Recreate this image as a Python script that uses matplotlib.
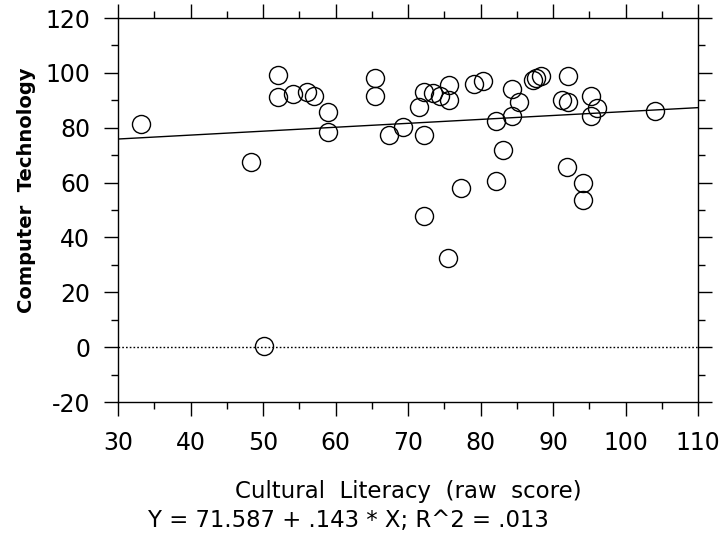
import matplotlib
import matplotlib.pyplot as plt
import numpy as np
from matplotlib.ticker import MultipleLocator

matplotlib.use("Agg")

# cultural literacy raw score vs computer technology score
literacy = [
    33.2, 48.3, 50.1, 52.0, 52.0, 54.1, 56.0, 57.1, 59.0, 59.0,
    65.5, 65.5, 67.4, 69.3, 71.5, 72.2, 72.2, 72.2, 73.4, 74.4,
    75.6, 75.6, 75.5, 77.3, 79.1, 80.3, 82.1, 82.1, 83.1, 84.3,
    84.3, 85.3, 87.2, 87.6, 88.4, 92.0, 91.2, 92.0, 91.9, 94.1,
    94.1, 95.3, 96.0, 95.3, 104.0,
]
technology = [
    81.4, 67.6, 0.5, 99.1, 91.2, 92.4, 93.2, 91.4, 85.6, 78.6,
    98.2, 91.4, 77.4, 80.4, 87.4, 93.1, 77.4, 47.9, 92.6, 91.4,
    95.4, 90.2, 32.5, 57.9, 96.0, 96.9, 82.4, 60.6, 71.7, 94.1,
    84.3, 89.2, 97.4, 98.2, 99.0, 99.0, 90.2, 89.4, 65.6, 59.7,
    53.8, 91.4, 87.2, 84.1, 86.2,
]

# fit reported on the original chart
intercept, slope = 71.587, 0.143
equation = "Y = 71.587 + .143 * X; R^2 = .013"

x_ticks = [30, 40, 50, 60, 70, 80, 90, 100, 110]
y_ticks = [-20, 0, 20, 40, 60, 80, 100, 120]

plt.rcParams["font.family"] = ["DejaVu Sans"]
plt.rcParams["axes.unicode_minus"] = False

fig = plt.figure(figsize=(7.25, 5.33), dpi=100)
ax = fig.add_axes([118 / 725, 1 - 402 / 533, 580 / 725, 384 / 533])

ax.plot(literacy, technology, "o", mfc="none", mec="black", ms=13, mew=1.0)

xs = np.array([x_ticks[0], x_ticks[-1]])
ax.plot(xs, intercept + slope * xs, color="black", lw=1.0)
ax.axhline(0, color="black", lw=1.0, ls=(0, (1.2, 1.5)))

ax.set_xlim(x_ticks[0], x_ticks[-1])
ax.set_ylim(y_ticks[0], y_ticks[-1])
ax.set_xticks(x_ticks)
ax.set_yticks(y_ticks)
ax.xaxis.set_minor_locator(MultipleLocator(5))
ax.yaxis.set_minor_locator(MultipleLocator(10))

ax.tick_params(which="both", direction="out", top=True, right=True,
               width=1.0, color="black")
ax.tick_params(axis="x", which="major", length=10, pad=11, labelsize=17)
ax.tick_params(axis="x", which="minor", length=5)
ax.tick_params(axis="y", which="major", length=10, pad=10, labelsize=17)
ax.tick_params(axis="y", which="minor", length=5)
for side in ax.spines.values():
    side.set_linewidth(1.0)

ax.set_xlabel("Cultural  Literacy  (raw  score)", fontsize=16.5, labelpad=18)
fig.text(27 / 725, 1 - 190 / 533, "Computer  Technology", fontsize=14,
         fontweight="bold", rotation=90, ha="center", va="center")
fig.text(148 / 725, 1 - 520 / 533, equation, fontsize=16.4, va="center", ha="left")

fig.savefig("out.png", dpi=100)
